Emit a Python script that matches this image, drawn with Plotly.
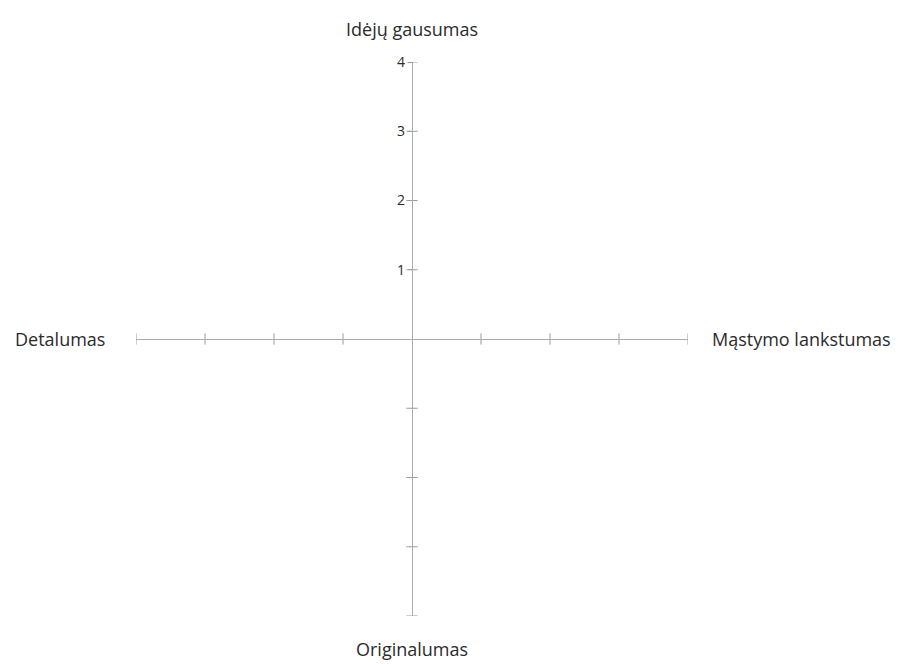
import plotly.graph_objects as go

# Axis names (top, right, bottom, left)
categories = ["Idėjų gausumas", "Mąstymo lankstumas", "Originalumas", "Detalumas"]
# Scale steps along each half-axis
scale_steps = [1, 2, 3, 4]
# Tick labels shown on the upper axis only
tick_labels = ["1", "2", "3", "4"]

axis_max = max(scale_steps)
line_col = "#ababab"
tick_col = "#9a9a9a"
text_col = "#2b2b2b"
font_family = "Open Sans, Lato, sans-serif"

fig = go.Figure()

# Cross-ticks on horizontal axis
xt = [-s for s in scale_steps] + scale_steps
fig.add_trace(go.Scatter(
    x=xt, y=[0] * len(xt), mode="markers",
    marker=dict(symbol="line-ns", size=8, line=dict(color=tick_col, width=1)),
    hoverinfo="skip", showlegend=False))
# Cross-ticks on vertical axis
yt = [-s for s in scale_steps] + scale_steps
fig.add_trace(go.Scatter(
    x=[0] * len(yt), y=yt, mode="markers",
    marker=dict(symbol="line-ew", size=8, line=dict(color=tick_col, width=1)),
    hoverinfo="skip", showlegend=False))

fig.update_layout(
    width=900, height=664,
    paper_bgcolor="white", plot_bgcolor="white",
    margin=dict(l=128, r=220, t=54, b=56),
    showlegend=False,
    xaxis=dict(range=[-axis_max, axis_max], anchor="free", position=0.5,
               showline=True, linecolor=line_col, linewidth=1.2,
               showgrid=False, zeroline=False, showticklabels=False,
               ticks="", fixedrange=True),
    yaxis=dict(range=[-axis_max, axis_max], anchor="free", position=0.5,
               showline=True, linecolor=line_col, linewidth=1.2,
               showgrid=False, zeroline=False,
               tickvals=scale_steps, ticktext=tick_labels,
               ticks="outside", ticklen=4, tickcolor=tick_col,
               tickfont=dict(family=font_family, size=14, color=text_col),
               fixedrange=True),
)

# Axis name labels at the four ends
ends = [(0, axis_max, "center", "bottom", 0, 19),
        (axis_max, 0, "left", "middle", 22, 0),
        (0, -axis_max, "center", "top", 0, -19),
        (-axis_max, 0, "right", "middle", -29, 0)]
for name, (x, y, xa, ya, xs, ys) in zip(categories, ends):
    fig.add_annotation(x=x, y=y, xref="x", yref="y", text=name, showarrow=False,
                       xanchor=xa, yanchor=ya, xshift=xs, yshift=ys,
                       font=dict(family=font_family, size=18, color=text_col))

fig.write_html("out.html")
